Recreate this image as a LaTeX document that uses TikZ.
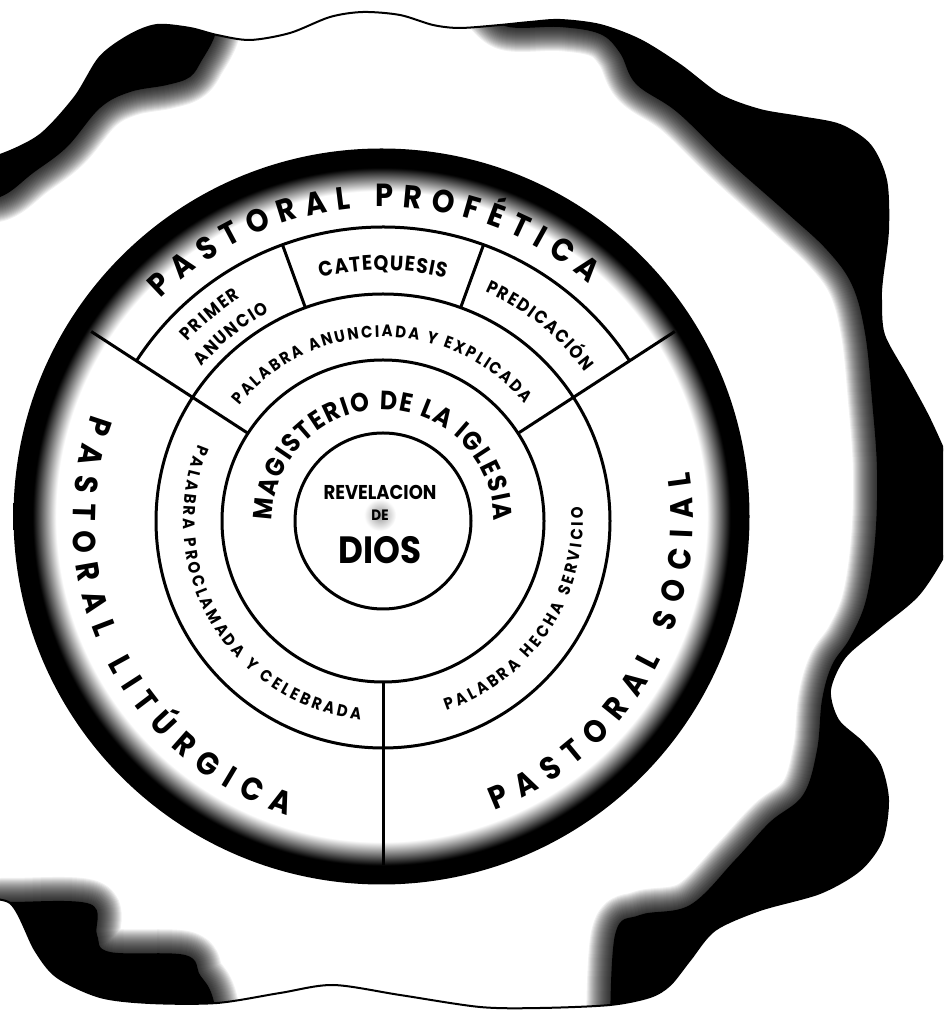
\documentclass[tikz,border=0pt]{standalone}
\usepackage{fontspec}
\setmainfont{Poppins}[FakeStretch=0.9]
\usetikzlibrary{decorations.text}

% black rim of the disc, fading inwards
\pgfdeclareradialshading{ringfade}{\pgfpoint{0bp}{0bp}}{%
  color(0bp)=(white); color(22.1bp)=(white); color(23.7bp)=(black);
  color(25bp)=(black); color(50bp)=(black)}

\newcommand\pastoralfont{\fontsize{16}{18}\selectfont\bfseries}
\newcommand\magfont{\fontsize{13.2}{15}\selectfont\bfseries}
\newcommand\catfont{\fontsize{10.5}{12}\selectfont\bfseries}
\newcommand\cellfont{\fontsize{9}{10}\selectfont\bfseries}
\newcommand\wordfont{\fontsize{8.3}{10}\selectfont\bfseries}

\tikzset{
  shadowL/.style={insert path={plot[smooth, tension=.6] coordinates {(-40,200) (0,197) (33,173)
      (67,147) (100,108) (130,92) (167,85) (190,77) (202,60) (214,38) (222,10)}
      -- (222,-40) -- (-40,-40) -- cycle}},
  shadowR/.style={insert path={plot[smooth, tension=.6] coordinates {(480,0) (505,26) (560,27)
      (600,34) (620,53) (636,84) (677,112) (727,160) (787,213) (827,250) (852,285) (865,333)
      (872,400) (877,470) (875,540) (866,600) (850,638) (832,665) (822,700) (817,750)
      (803,795) (770,822) (735,860) (690,905) (640,915) (615,935) (610,1040)}
      -- (1000,1040) -- (1000,-40) -- (480,-40) -- cycle}},
  shadowB/.style={insert path={plot[smooth, tension=.6] coordinates {(-40,903) (10,902)
      (90,904) (97,935) (110,952) (185,955) (200,975) (212,995) (222,1040)}
      -- (-40,1040) -- cycle}}
}

\begin{document}
\begin{tikzpicture}[
  x=0.5pt, y=0.5pt,
  ringline/.style={line width=1.5pt},
  along/.style={decorate, decoration={text along path, text={#1}, text align=fit to path}},
  centre/.style={inner sep=0pt, font=#1}
]
\useasboundingbox (0,0) rectangle (943,1012);
\fill[white] (0,0) rectangle (943,1012);
\clip (0,0) rectangle (943,1012);

% --- wavy seal (pixel coordinates, y downwards) ---
\begin{scope}[shift={(0,1012)}, yscale=-1]
  \begin{scope}
    \clip plot[smooth, tension=.5] coordinates {(-30,160) (0,155) (40,135) (75,97) (100,57)
      (130,35) (157,25) (190,28) (217,35) (250,40) (290,33) (330,17) (363,12) (400,15)
      (433,25) (460,28) (500,25) (530,22) (560,20) (600,25) (640,40) (680,65) (720,95)
      (760,110) (800,117) (840,125) (870,145) (886,180) (888,230) (882,280) (881,300)
      (884,335) (907,377) (930,420) (952,470) (960,500) (952,540) (920,593) (880,627)
      (845,657) (830,690) (838,720) (862,742) (880,765) (888,800) (882,840) (860,870)
      (820,893) (760,910) (715,930) (690,960) (670,985) (650,997) (610,1005) (540,1008)
      (480,1007) (400,995) (333,985) (280,993) (217,1003) (150,1003) (100,997) (57,977)
      (35,950) (10,903) (-30,900)} -- cycle;
    \foreach \part in {shadowL, shadowR, shadowB} {
      \foreach \w in {1,...,24}
        \draw[line width=\w pt, opacity=.06, line join=round, \part];
      \fill[black, \part];
    }
  \end{scope}
  \draw[line width=1pt] plot[smooth, tension=.5] coordinates {(-30,160) (0,155) (40,135)
    (75,97) (100,57) (130,35) (157,25) (190,28) (217,35) (250,40) (290,33) (330,17)
    (363,12) (400,15) (433,25) (460,28) (500,25) (530,22) (560,20) (600,25) (640,40)
    (680,65) (720,95) (760,110) (800,117) (840,125) (870,145) (886,180) (888,230)
    (882,280) (881,300) (884,335) (907,377) (930,420) (952,470) (960,500) (952,540)
    (920,593) (880,627) (845,657) (830,690) (838,720) (862,742) (880,765) (888,800)
    (882,840) (860,870) (820,893) (760,910) (715,930) (690,960) (670,985) (650,997)
    (610,1005) (540,1008) (480,1007) (400,995) (333,985) (280,993) (217,1003) (150,1003)
    (100,997) (57,977) (35,950) (10,903) (-30,900)} -- cycle;
\end{scope}

% --- disc ---
\coordinate (OC) at (381.5,495.5);
\coordinate (O) at (383,491);
\shade[shading=ringfade] (OC) circle[radius=368];

\begin{scope}[shift={(O)}]
  \foreach \r in {88,161,227}
    \draw[ringline] (0,0) circle[radius=\r];
  \draw[ringline] (147:294) arc[start angle=147, end angle=33, radius=294];
  \foreach \a/\e in {147/348, 33/348, 270/344}
    \draw[ringline] (\a:161) -- (\a:\e);
  \foreach \a in {110,70}
    \draw[ringline] (\a:227) -- (\a:294);

  % outer band
  \path[along={|\pastoralfont|PASTORAL PROFÉTICA}] (135:314) arc[start angle=135, end angle=49, radius=314];
  \path[along={|\pastoralfont|PASTORAL LITÚRGICA}] (160:310) arc[start angle=160, end angle=252, radius=310];
  \path[along={|\pastoralfont|PASTORAL SOCIAL}] (-69:310) arc[start angle=-69, end angle=9, radius=310];

  % upper cells
  \path[along={|\cellfont|PRIMER}] (137.5:265) arc[start angle=137.5, end angle=122.5, radius=265];
  \path[along={|\cellfont|ANUNCIO}] (139.5:238) arc[start angle=139.5, end angle=118.5, radius=238];
  \path[along={|\catfont|CATEQUESIS}] (104.5:251) arc[start angle=104.5, end angle=75.5, radius=251];
  \path[along={|\cellfont|PREDICACIÓN}] (66:251) arc[start angle=66, end angle=36.5, radius=251];

  % word ring
  \path[along={|\wordfont|PALABRA ANUNCIADA Y EXPLICADA}] (141:184) arc[start angle=141, end angle=39.5, radius=184];
  \path[along={|\wordfont|PALABRA PROCLAMADA Y CELEBRADA}] (157.5:200) arc[start angle=157.5, end angle=263.5, radius=200];
  \path[along={|\wordfont|PALABRA HECHA SERVICIO}] (-71.5:200) arc[start angle=-71.5, end angle=4, radius=200];

  % magisterium
  \path[along={|\magfont|MAGISTERIO DE LA IGLESIA}] (180:111) arc[start angle=180, end angle=0, radius=111];

  % centre
  \shade[inner color=black!40, outer color=white] (-3,6) circle[radius=16];
  \node[centre=\fontsize{10}{11}\selectfont\bfseries] (revelacion) at (-3,29) {REVELACION};
  \node[centre=\fontsize{7.5}{8}\selectfont\bfseries] (de) at (-3,6) {DE};
  \node[centre=\fontsize{19}{21}\selectfont\bfseries] (dios) at (-3,-29) {DIOS};
\end{scope}
\end{tikzpicture}
\end{document}
